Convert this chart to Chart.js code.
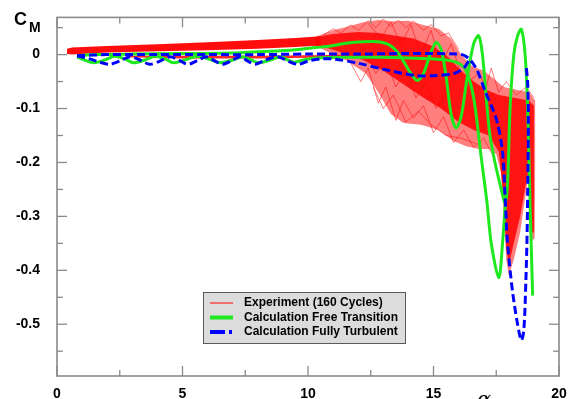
<!DOCTYPE html>
<html><head><meta charset="utf-8">
<script src="https://cdn.jsdelivr.net/npm/chart.js@4"></script>
<style>html,body{margin:0;padding:0;background:#fff}#wrap{width:576px;height:399px}</style>
</head><body><div id="wrap"><canvas id="c" width="576" height="399"></canvas></div>
<script>
// ---------- axis ticks ----------
const xTickValues = [0, 5, 10, 15, 20];
const xTickLabels = ['0', '5', '10', '15', '20'];
const xMinorTicks = [2.5, 7.5, 12.5, 17.5];
const yTickValues = [0, -0.1, -0.2, -0.3, -0.4, -0.5];
const yTickLabels = ['0', '-0.1', '-0.2', '-0.3', '-0.4', '-0.5'];
const yMinorTicks = [0.05, -0.05, -0.15, -0.25, -0.35, -0.45, -0.55];
const xRange = [0, 20];
const yRange = [-0.596, 0.069];
const legendLabels = ['Experiment (160 Cycles)', 'Calculation Free Transition', 'Calculation Fully Turbulent'];

// ---------- Experiment (160 cycles) : band outlines and individual cycles [alpha, CM] ----------
const expLowUpper = [[0.4,0.011],[0.6,0.013],[2,0.016],[4,0.019],[6,0.023],[8,0.027],[9.5,0.031],[10.5,0.034]];
const expLowLower = [[0.4,0.001],[0.6,0.0],[2,0.004],[4,0.006],[6,0.008],[8,0.011],[9.5,0.014],[10.5,0.017]];
const expDownUpper = [[2.8,-0.002],[5,-0.002],[8,-0.002],[10,-0.001],[12.5,0.0]];
const expDownLower = [[2.8,-0.005],[5,-0.007],[8,-0.007],[10,-0.006],[12.5,-0.006]];
const expMeshOuter = [[10.3,0.033],[11.0,0.045],[11.6,0.052],[12.2,0.06],[12.8,0.064],[13.4,0.062],[14.0,0.063],[14.6,0.055],[15.2,0.048],[15.7,0.03],[16.1,0.0],[16.5,-0.02],[17.0,-0.03],[17.4,-0.045],[17.8,-0.06],[18.3,-0.065],[18.8,-0.07],[19.05,-0.085],[19.05,-0.2],[19.03,-0.34],[18.85,-0.35],[18.8,-0.22],[18.7,-0.25],[18.45,-0.33],[18.2,-0.38],[18.0,-0.41],[17.9,-0.38],[17.8,-0.3],[17.7,-0.22],[17.5,-0.185],[17.2,-0.175],[16.8,-0.175],[16.3,-0.17],[15.8,-0.16],[15.2,-0.14],[14.5,-0.13],[13.8,-0.127],[13.3,-0.11],[12.8,-0.07],[12.3,-0.035],[11.5,-0.01],[11.0,0.0],[10.5,0.012],[10.3,0.016]];
const expMeshInner = [[10.3,0.032],[11,0.038],[12,0.042],[12.8,0.04],[13.5,0.035],[14.2,0.03],[15,0.015],[15.6,-0.005],[16.1,-0.03],[16.6,-0.05],[17.1,-0.065],[17.6,-0.075],[18.2,-0.08],[18.8,-0.085],[19.0,-0.095],[19.0,-0.33],[18.87,-0.33],[18.82,-0.21],[18.7,-0.235],[18.45,-0.3],[18.2,-0.35],[18.0,-0.39],[17.9,-0.36],[17.8,-0.27],[17.6,-0.18],[17.2,-0.15],[16.6,-0.14],[16,-0.125],[15.3,-0.1],[14.6,-0.08],[13.8,-0.055],[13,-0.03],[12.2,-0.01],[11.4,0.003],[10.8,0.012],[10.3,0.016]];
const expCycleA = [[10.6,0.036],[11.0,0.048],[11.3,0.04],[11.7,0.055],[12.0,0.045],[12.4,0.063],[12.7,0.05],[13.0,0.066],[13.3,0.052],[13.6,0.064],[13.9,0.05],[14.2,0.062],[14.6,0.045],[14.9,0.056],[15.3,0.035],[15.6,0.04],[16.0,0.01]];
const expCycleB = [[11.2,0.012],[11.7,-0.015],[12.1,-0.05],[12.4,-0.025],[12.8,-0.09],[13.1,-0.06],[13.5,-0.122],[13.8,-0.085],[14.2,-0.118],[14.6,-0.095],[15.0,-0.145],[15.4,-0.115],[15.8,-0.163],[16.2,-0.14],[16.6,-0.172],[17.0,-0.155],[17.4,-0.19]];
const expCycleC = [[11.8,0.03],[12.3,0.005],[12.7,-0.035],[13.1,-0.01],[13.5,-0.06],[13.9,-0.03],[14.3,-0.08],[14.7,-0.05],[15.1,-0.1],[15.5,-0.07],[16.0,-0.125],[16.4,-0.1],[16.9,-0.14]];
const expCycleD = [[16.0,-0.04],[16.4,-0.05],[16.8,-0.035],[17.1,-0.06],[17.3,-0.025],[17.6,-0.07],[17.9,-0.05],[18.3,-0.075],[18.7,-0.06],[19.0,-0.08]];
const expCycleE = [[12.4,0.058],[12.9,0.03],[13.3,0.06],[13.7,0.02],[14.1,0.055],[14.5,0.0],[14.9,0.045],[15.3,-0.02],[15.7,0.02],[16.2,-0.05]];
const expCycleF = [[12.6,-0.06],[13.0,-0.1],[13.4,-0.075],[13.9,-0.125],[14.4,-0.105],[14.9,-0.13],[15.5,-0.15],[16.1,-0.155],[16.7,-0.165]];

// ---------- Calculation Free Transition ----------
const freeUp = [[0.8,-0.002],[1.5,0.0],[3,0.001],[5,0.002],[7,0.003],[8.5,0.006],[9.5,0.009],[10.3,0.013],[10.9,0.016],[11.5,0.021],[12.2,0.024],[12.8,0.024],[13.2,0.019],[13.5,0.008],[13.8,-0.012],[14.1,-0.035],[14.35,-0.048],[14.6,-0.035],[14.85,-0.002],[15.1,0.023],[15.3,0.01],[15.5,-0.04],[15.7,-0.11],[15.9,-0.136],[16.1,-0.115],[16.35,-0.04],[16.6,0.02],[16.8,0.035],[16.95,0.0],[17.1,-0.08],[17.25,-0.15],[17.45,-0.2],[17.7,-0.25],[17.85,-0.275],[17.95,-0.24],[18.05,-0.1],[18.2,0.0],[18.35,0.035],[18.5,0.047],[18.65,0.0],[18.75,-0.1],[18.85,-0.28],[18.95,-0.447]];
const freeDown = [[0.8,-0.004],[1.1,-0.01],[1.45,-0.015],[1.9,-0.01],[2.3,-0.003],[2.7,-0.008],[3.05,-0.015],[3.5,-0.01],[3.9,-0.003],[4.3,-0.008],[4.65,-0.015],[5.1,-0.01],[5.6,-0.003],[6.1,-0.009],[6.5,-0.015],[7.0,-0.01],[7.4,-0.004],[7.7,-0.009],[8.0,-0.015],[8.5,-0.01],[8.9,-0.004],[9.2,-0.01],[9.45,-0.014],[9.9,-0.009],[10.5,-0.006],[11.5,-0.005],[13,-0.005],[14.5,-0.007],[15.5,-0.01],[16.0,-0.016],[16.3,-0.03],[16.6,-0.08],[16.9,-0.19],[17.13,-0.274],[17.3,-0.35],[17.6,-0.414],[17.75,-0.35],[17.9,-0.25]];

// ---------- Calculation Fully Turbulent ----------
const turbUp = [[0.8,-0.002],[2,0.0],[4,0.0],[6,0.0],[8,0.0],[10,0.001],[12,0.001],[14,0.002],[16.0,0.001],[16.25,-0.002],[16.5,-0.012],[16.75,-0.03],[17.05,-0.067],[17.35,-0.1],[17.55,-0.127],[17.75,-0.18],[17.85,-0.26],[17.95,-0.35],[18.15,-0.44],[18.35,-0.5],[18.5,-0.53],[18.6,-0.51],[18.68,-0.42],[18.73,-0.33],[18.76,-0.22],[18.78,-0.12],[18.75,-0.05],[18.7,-0.025]];
const turbDown = [[0.8,-0.002],[1.3,-0.008],[1.7,-0.014],[2.1,-0.018],[2.5,-0.012],[2.9,-0.004],[3.3,-0.01],[3.7,-0.018],[4.1,-0.012],[4.5,-0.004],[4.85,-0.01],[5.2,-0.018],[5.6,-0.011],[5.95,-0.004],[6.3,-0.012],[6.6,-0.018],[7.0,-0.01],[7.3,-0.004],[7.6,-0.012],[7.9,-0.018],[8.3,-0.01],[8.8,-0.004],[9.2,-0.012],[9.6,-0.018],[10.0,-0.012],[10.5,-0.008],[11.0,-0.008],[12,-0.016],[13,-0.027],[14.3,-0.039],[15.0,-0.039],[15.8,-0.035],[16.2,-0.025],[16.45,-0.008]];

// ---------- helpers ----------
const pts = a => a.map(p => ({x: p[0], y: p[1]}));
const band = (up, lo) => pts(up.concat(lo.slice().reverse()));
const RED = '#ff0000', GREEN = '#1ee81e', BLUE = '#0000ff';
const FONT = "'Liberation Sans', Arial, sans-serif";

const shape = (data, color) => ({data, fill: 'shape', backgroundColor: color, borderWidth: 0, pointRadius: 0, tension: 0, order: 5});
const thin = (data) => ({data: pts(data), borderColor: 'rgba(255,0,0,0.65)', borderWidth: 0.8, pointRadius: 0, tension: 0, fill: false, order: 4});

const datasets = [
  shape(pts(expMeshOuter), 'rgba(255,0,0,0.5)'),
  shape(pts(expMeshInner), 'rgba(255,0,0,0.85)'),
  shape(band(expLowUpper, expLowLower), 'rgba(255,0,0,0.95)'),
  shape(band(expDownUpper, expDownLower), 'rgba(255,0,0,0.85)'),
  thin(expCycleA), thin(expCycleB), thin(expCycleC), thin(expCycleD), thin(expCycleE), thin(expCycleF),
  {data: pts(freeUp), borderColor: GREEN, borderWidth: 3, pointRadius: 0, tension: 0.3, fill: false, order: 2},
  {data: pts(freeDown), borderColor: GREEN, borderWidth: 3, pointRadius: 0, tension: 0.3, fill: false, order: 2},
  {data: pts(turbUp), borderColor: BLUE, borderWidth: 3, borderDash: [8, 4], pointRadius: 0, tension: 0.3, fill: false, order: 1},
  {data: pts(turbDown), borderColor: BLUE, borderWidth: 3, borderDash: [8, 4], pointRadius: 0, tension: 0.3, fill: false, order: 1}
];

const framePlugin = {
  id: 'frame',
  afterDraw(chart) {
    const {ctx, chartArea: a, scales: {x, y}} = chart;
    ctx.save();
    ctx.strokeStyle = '#8a8a8a';
    ctx.lineWidth = 1.3;
    const seg = (x1, y1, x2, y2) => { ctx.beginPath(); ctx.moveTo(x1, y1); ctx.lineTo(x2, y2); ctx.stroke(); };
    xTickValues.forEach(v => { const p = x.getPixelForValue(v); seg(p, a.bottom, p, a.bottom - 10); seg(p, a.top, p, a.top + 10); });
    xMinorTicks.forEach(v => { const p = x.getPixelForValue(v); seg(p, a.bottom, p, a.bottom - 6); seg(p, a.top, p, a.top + 6); });
    yTickValues.forEach(v => { const p = y.getPixelForValue(v); seg(a.left, p, a.left + 10, p); seg(a.right, p, a.right - 10, p); });
    yMinorTicks.forEach(v => { const p = y.getPixelForValue(v); if (p > a.top && p < a.bottom) { seg(a.left, p, a.left + 6, p); seg(a.right, p, a.right - 6, p); } });
    ctx.lineWidth = 1.6;
    ctx.strokeRect(a.left, a.top, a.right - a.left, a.bottom - a.top);

    // axis titles
    ctx.fillStyle = '#000';
    ctx.textBaseline = 'alphabetic';
    ctx.textAlign = 'left';
    ctx.font = 'bold 18px ' + FONT;
    ctx.fillText('C', 14, 25);
    ctx.font = 'bold 14px ' + FONT;
    ctx.fillText('M', 29, 32);
    ctx.font = 'italic 21px "DejaVu Serif", serif';
    ctx.textAlign = 'center';
    ctx.fillText('α', 484, 406);

    // legend
    const bx = 203, by = 292, bw = 202, bh = 51;
    ctx.fillStyle = '#dcdcdc';
    ctx.fillRect(bx, by, bw, bh);
    ctx.strokeStyle = '#5a5a5a';
    ctx.lineWidth = 1;
    ctx.strokeRect(bx + 0.5, by + 0.5, bw, bh);
    const rows = [303, 317.5, 332];
    ctx.setLineDash([]);
    ctx.strokeStyle = RED; ctx.lineWidth = 1; seg(210, rows[0], 233, rows[0]);
    ctx.strokeStyle = GREEN; ctx.lineWidth = 4; seg(210, rows[1], 233, rows[1]);
    ctx.strokeStyle = BLUE; ctx.lineWidth = 4; seg(210, rows[2], 225, rows[2]); seg(229, rows[2], 232, rows[2]);
    ctx.fillStyle = '#000';
    ctx.textAlign = 'left';
    ctx.textBaseline = 'middle';
    ctx.font = 'bold 12px ' + FONT;
    legendLabels.forEach((t, i) => ctx.fillText(t, 244, rows[i]));
    ctx.restore();
  }
};

new Chart(document.getElementById('c'), {
  type: 'line',
  data: {datasets},
  options: {
    responsive: false,
    animation: false,
    devicePixelRatio: 1,
    layout: {padding: {top: 13, right: 17, left: 0, bottom: 0}},
    plugins: {legend: {display: false}, tooltip: {enabled: false}},
    scales: {
      x: {
        type: 'linear', min: xRange[0], max: xRange[1],
        grid: {display: false}, border: {display: false},
        afterFit(s) { s.height = 23; },
        afterBuildTicks(s) { s.ticks = xTickValues.map(v => ({value: v})); },
        ticks: {autoSkip: false, maxRotation: 0, padding: 2, color: '#000',
          font: {family: FONT, weight: 'bold', size: 14},
          callback: (v, i) => xTickLabels[i]}
      },
      y: {
        type: 'linear', min: yRange[0], max: yRange[1],
        grid: {display: false}, border: {display: false},
        afterFit(s) { s.width = 57; },
        afterBuildTicks(s) { s.ticks = yTickValues.map(v => ({value: v})); },
        ticks: {autoSkip: false, padding: 9, color: '#000',
          font: {family: FONT, weight: 'bold', size: 14},
          callback: (v, i) => yTickLabels[i]}
      }
    }
  },
  plugins: [framePlugin]
});
</script>
</body></html>
